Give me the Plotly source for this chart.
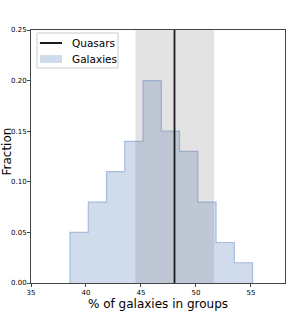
import plotly.graph_objects as go

bin_edges = [38.55, 40.21, 41.87, 43.53, 45.19, 46.85, 48.51, 50.17, 51.83, 53.49, 55.15]
fractions = [0.05, 0.08, 0.11, 0.14, 0.20, 0.15, 0.13, 0.08, 0.04, 0.02]
quasar_value = 48.05
quasar_low = 44.5
quasar_high = 51.65
x_ticks = [35, 40, 45, 50, 55]
y_ticks = [0.00, 0.05, 0.10, 0.15, 0.20, 0.25]
series_names = ["Quasars", "Galaxies"]

HIST_FILL = "rgba(176,196,222,0.6)"
HIST_LINE = "rgba(150,175,215,0.8)"

# step outline from edges/values
xs = [bin_edges[0]]
ys = [0]
for i, v in enumerate(fractions):
    xs += [bin_edges[i], bin_edges[i + 1]]
    ys += [v, v]
xs.append(bin_edges[-1])
ys.append(0)

fig = go.Figure()
fig.add_trace(go.Scatter(
    x=xs, y=ys, mode="lines", fill="tozeroy",
    fillcolor=HIST_FILL, line=dict(color=HIST_LINE, width=1.2),
    name=series_names[1], showlegend=False,
))
fig.add_trace(go.Scatter(
    x=[quasar_value, quasar_value], y=[0, 0.25], mode="lines",
    line=dict(color="black", width=1.8), name=series_names[0], showlegend=False,
))
fig.add_vrect(x0=quasar_low, x1=quasar_high, fillcolor="rgba(128,128,128,0.22)",
              line_width=0, layer="above")

# legend box (matplotlib style)
fig.add_shape(type="rect", xref="paper", yref="paper", x0=0.0236, x1=0.3425, y0=0.850, y1=0.988,
              fillcolor="rgba(255,255,255,0.85)", line=dict(color="#cccccc", width=1), layer="above")
fig.add_shape(type="line", xref="paper", yref="paper", x0=0.035, x1=0.122, y0=0.9486, y1=0.9486,
              line=dict(color="black", width=1.8), layer="above")
fig.add_shape(type="rect", xref="paper", yref="paper", x0=0.035, x1=0.122, y0=0.8696, y1=0.901,
              fillcolor=HIST_FILL, line=dict(width=0), layer="above")
for name, yy in zip(series_names, [0.9486, 0.885]):
    fig.add_annotation(text=name, xref="paper", yref="paper", x=0.1535, y=yy,
                       xanchor="left", yanchor="middle", showarrow=False,
                       font=dict(family="DejaVu Sans", size=10.5, color="black"))

# y axis title as rotated text
fig.add_annotation(text="Fraction", xref="paper", yref="paper", x=0, y=0.5, xshift=-25, yshift=5,
                   textangle=-90, showarrow=False, xanchor="center", yanchor="middle",
                   borderpad=0,
                   font=dict(family="DejaVu Sans", size=12, color="black"))

axis_common = dict(
    showline=True, linecolor="#444", linewidth=1, mirror=True, automargin=False,
    ticks="outside", ticklen=3, tickcolor="#444", showgrid=False, zeroline=False,
    tickfont=dict(family="DejaVu Sans", size=7, color="black"),
)
fig.update_xaxes(range=[35, 58.1], tickvals=x_ticks, ticktext=[str(t) for t in x_ticks],
                 title=dict(text="% of galaxies in groups", standoff=2,
                            font=dict(family="DejaVu Sans", size=12, color="black")),
                 **axis_common)
fig.update_yaxes(range=[0, 0.25], tickvals=y_ticks, ticktext=[f"{t:.2f}" for t in y_ticks],
                 ticklabelstandoff=-1, **axis_common)
fig.update_layout(
    width=299, height=316,
    margin=dict(l=31, r=14, t=30, b=33),
    plot_bgcolor="white", paper_bgcolor="white",
    showlegend=False,
)
fig.write_html("out.html", config={"displayModeBar": False},
               post_script="document.body.style.margin='0';document.body.style.overflow='hidden';")
